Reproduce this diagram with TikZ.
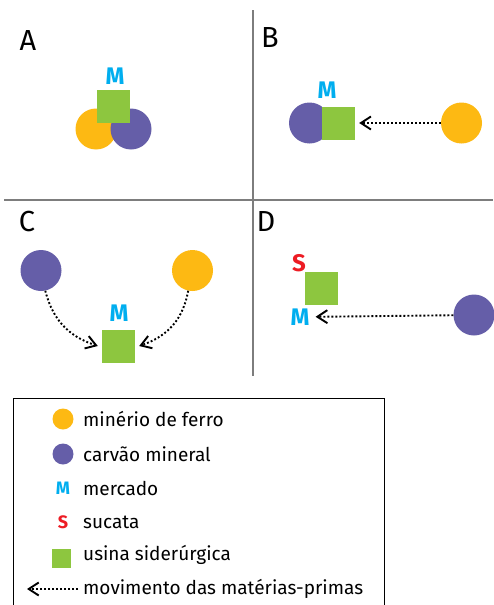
\documentclass[tikz,border=0pt]{standalone}
\usepackage{fontspec}
\setmainfont{Fira Sans}
\usetikzlibrary{arrows.meta}
\definecolor{OreYellow}{RGB}{253,185,19}
\definecolor{CoalPurple}{RGB}{101,94,168}
\definecolor{MillGreen}{RGB}{141,198,63}
\definecolor{MarketBlue}{RGB}{0,174,239}
\definecolor{ScrapRed}{RGB}{237,28,36}
\definecolor{FrameGray}{RGB}{125,125,125}
\tikzset{
  minerio/.style={circle,fill=OreYellow,minimum size=41pt,inner sep=0pt},
  carvao/.style={circle,fill=CoalPurple,minimum size=41pt,inner sep=0pt},
  usina/.style={fill=MillGreen,minimum size=33pt,inner sep=0pt},
  mercado/.style={text=MarketBlue,font=\fontsize{24}{24}\selectfont\bfseries,inner sep=0pt},
  sucata/.style={text=ScrapRed,font=\fontsize{24}{24}\selectfont\bfseries,inner sep=0pt},
  painel/.style={font=\fontsize{29}{29}\selectfont,inner sep=0pt},
  item/.style={font=\fontsize{19}{19}\selectfont,anchor=west,inner sep=0pt},
  move/.style={line width=1.9pt,dash pattern=on 1.9pt off 2.1pt,
    -{Straight Barb[length=10pt,width=13pt,line width=1.9pt]}}
}
\begin{document}
\begin{tikzpicture}[x=1pt,y=-1pt]
  \useasboundingbox (0,0) rectangle (493,605);
  % frame lines
  \draw[FrameGray,line width=1.2pt] (4,200) -- (493,200);
  \draw[FrameGray,line width=1.2pt] (253,10) -- (253,376);
  % A
  \node[painel] (labA) at (28,41) {A};
  \node[minerio] (oreA) at (96,129) {};
  \node[carvao] (coalA) at (131,129) {};
  \node[usina] (millA) at (113.5,106.5) {};
  \node[mercado] (mktA) at (115,76) {M};
  % B
  \node[painel] (labB) at (270,38) {B};
  \node[carvao] (coalB) at (309.5,123) {};
  \node[usina] (millB) at (338.5,123) {};
  \node[mercado] (mktB) at (327,90) {M};
  \node[minerio] (oreB) at (461.5,123) {};
  \draw[move,shorten >=4pt] (oreB) -- (millB);
  % C
  \node[painel] (labC) at (27,222) {C};
  \node[carvao] (coalC) at (41,270.5) {};
  \node[minerio] (oreC) at (192.5,270.5) {};
  \node[usina] (millC) at (118.5,346) {};
  \node[mercado] (mktC) at (119,313) {M};
  \draw[move] (coalC.-78) .. controls (54,325) and (74,338) .. ([xshift=-4pt]millC.west);
  \draw[move] (oreC.-102) .. controls (182,325) and (162,338) .. ([xshift=4pt]millC.east);
  % D
  \node[painel] (labD) at (266,222) {D};
  \node[sucata] (scrD) at (299,263) {S};
  \node[usina] (millD) at (321.5,288) {};
  \node[mercado] (mktD) at (300,317) {M};
  \node[carvao] (coalD) at (474,315) {};
  \draw[move,shorten >=6pt] (coalD) -- (mktD);
  % legenda
  \draw[black,line width=1pt] (13,398) rectangle (384,615);
  \node[minerio,minimum size=21pt] (oreL) at (63,419) {};
  \node[item] (txtOre) at (83,419) {minério de ferro};
  \node[carvao,minimum size=21pt] (coalL) at (63,454) {};
  \node[item] (txtCoal) at (83,454) {carvão mineral};
  \node[mercado,font=\fontsize{18}{18}\selectfont\bfseries] (mktL) at (63,488) {M};
  \node[item] (txtMkt) at (83,488) {mercado};
  \node[sucata,font=\fontsize{18}{18}\selectfont\bfseries] (scrL) at (63,522) {S};
  \node[item] (txtScr) at (83,522) {sucata};
  \node[usina,minimum size=19pt] (millL) at (61.5,558) {};
  \node[item] (txtMill) at (83,555) {usina siderúrgica};
  \coordinate (arrL) at (78,589);
  \coordinate (tipL) at (27,589);
  \draw[move] (arrL) -- (tipL);
  \node[item] (txtMove) at (83,589) {movimento das matérias-primas};
\end{tikzpicture}
\end{document}
